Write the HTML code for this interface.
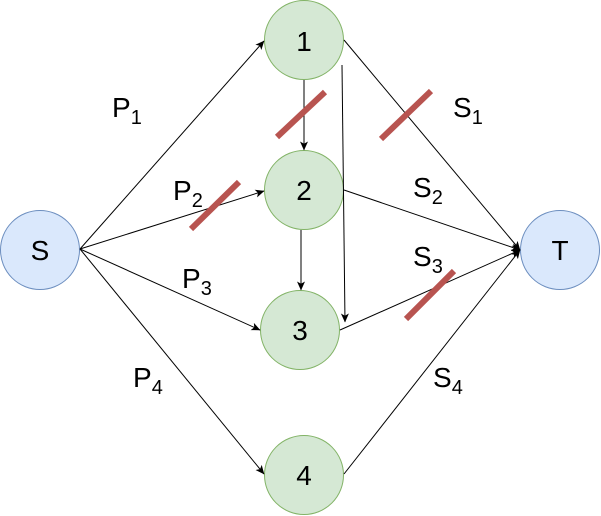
<!DOCTYPE html>
<html>
<head>
<meta charset="utf-8">
<style>
  html, body { margin: 0; padding: 0; background: #ffffff; }
  svg { display: block; }
  text { font-family: "Liberation Sans", Arial, sans-serif; fill: #000; }
</style>
</head>
<body>
<svg width="601" height="516" viewBox="0 0 601 516" xmlns="http://www.w3.org/2000/svg">
  <defs>
    <marker id="arr" markerWidth="9" markerHeight="9" viewBox="0 0 9 8" refX="8.5" refY="4" orient="auto" markerUnits="userSpaceOnUse">
      <path d="M0,0 L9,4 L0,8 L2.2,4 Z" fill="#000"/>
    </marker>
  </defs>

  <!-- nodes -->
  <circle cx="40" cy="250" r="39.5" fill="#dae8fc" stroke="#6c8ebf" stroke-width="1"/>
  <circle cx="560" cy="250" r="39.5" fill="#dae8fc" stroke="#6c8ebf" stroke-width="1"/>
  <circle cx="304" cy="40" r="39.5" fill="#d5e8d4" stroke="#82b366" stroke-width="1"/>
  <circle cx="304" cy="190" r="39.5" fill="#d5e8d4" stroke="#82b366" stroke-width="1"/>
  <circle cx="300" cy="330" r="39.5" fill="#d5e8d4" stroke="#82b366" stroke-width="1"/>
  <circle cx="304" cy="475" r="39.5" fill="#d5e8d4" stroke="#82b366" stroke-width="1"/>

  <!-- edges -->
  <g stroke="#000" stroke-width="1" fill="none">
    <line x1="80" y1="249" x2="264" y2="41" marker-end="url(#arr)"/>
    <line x1="80" y1="249" x2="264" y2="191" marker-end="url(#arr)"/>
    <line x1="80" y1="249" x2="260" y2="330" marker-end="url(#arr)"/>
    <line x1="80" y1="249" x2="264" y2="474" marker-end="url(#arr)"/>
    <line x1="304" y1="80" x2="304" y2="150" marker-end="url(#arr)"/>
    <line x1="301" y1="230" x2="301" y2="290" marker-end="url(#arr)"/>
    <line x1="342" y1="65" x2="345" y2="322" marker-end="url(#arr)"/>
    <line x1="344" y1="40" x2="520" y2="250" marker-end="url(#arr)"/>
    <line x1="344" y1="190" x2="520" y2="250" marker-end="url(#arr)"/>
    <line x1="340" y1="330" x2="520" y2="250" marker-end="url(#arr)"/>
    <line x1="344" y1="474" x2="520" y2="250" marker-end="url(#arr)"/>
  </g>

  <!-- red strike marks -->
  <g stroke="#b85450" stroke-width="6" fill="none">
    <line x1="277" y1="137" x2="325" y2="92"/>
    <line x1="381" y1="139" x2="431" y2="91"/>
    <line x1="191" y1="229" x2="239" y2="182"/>
    <line x1="406" y1="319" x2="454" y2="271"/>
  </g>

  <!-- node labels -->
  <g font-size="28" text-anchor="middle">
    <text x="40" y="260">S</text>
    <text x="560" y="260">T</text>
    <text x="304" y="51">1</text>
    <text x="304" y="200">2</text>
    <text x="300" y="340">3</text>
    <text x="304" y="485">4</text>
  </g>

  <!-- edge labels -->
  <g font-size="28">
    <text x="112" y="117">P<tspan font-size="20" dy="7">1</tspan></text>
    <text x="173" y="200">P<tspan font-size="20" dy="7">2</tspan></text>
    <text x="182" y="288">P<tspan font-size="20" dy="7">3</tspan></text>
    <text x="133" y="387">P<tspan font-size="20" dy="7">4</tspan></text>
    <text x="453" y="117">S<tspan font-size="20" dy="7">1</tspan></text>
    <text x="413" y="197">S<tspan font-size="20" dy="7">2</tspan></text>
    <text x="413" y="266">S<tspan font-size="20" dy="7">3</tspan></text>
    <text x="433" y="387">S<tspan font-size="20" dy="7">4</tspan></text>
  </g>
</svg>
</body>
</html>
